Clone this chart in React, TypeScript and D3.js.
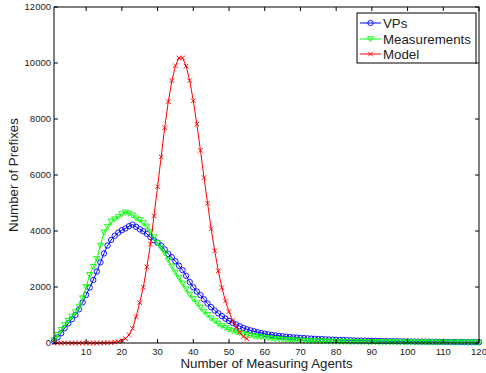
import React from "react";
import * as d3 from "d3";

const xTicks = [10, 20, 30, 40, 50, 60, 70, 80, 90, 100, 110, 120];
const yTicks = [0, 2000, 4000, 6000, 8000, 10000, 12000];

const vps = [
  60, 200, 350, 530, 700, 850, 1000, 1200, 1450, 1720,
  1980, 2250, 2550, 2880, 3200, 3480, 3680, 3830, 3940, 4030,
  4090, 4170, 4230, 4150, 4060, 3990, 3900, 3780, 3670, 3580,
  3480, 3340, 3180, 3060, 2920, 2760, 2600, 2400, 2180, 1990,
  1840, 1710, 1560, 1410, 1280, 1160, 1060, 960, 870, 790,
  720, 660, 600, 540, 490, 450, 415, 385, 355, 330,
  308, 288, 270, 254, 240, 226, 213, 202, 192, 183,
  174, 165, 157, 149, 142, 136, 130, 124, 118, 113,
  108, 103, 99, 95, 91, 88, 85, 82, 79, 76,
  73, 71, 68, 66, 64, 62, 60, 58, 56, 54,
  52, 50, 49, 47, 46, 44, 43, 42, 40, 39,
  38, 37, 36, 35, 34, 33, 32, 31, 30, 30,
];

const measurements = [
  100, 290, 470, 640, 790, 940, 1100, 1300, 1600, 2000,
  2430, 2720, 3000, 3480, 3950, 4150, 4340, 4420, 4500, 4600,
  4660, 4620, 4560, 4450, 4390, 4290, 4160, 3960, 3780, 3570,
  3400, 3210, 2960, 2730, 2520, 2320, 2120, 1920, 1730, 1580,
  1420, 1260, 1120, 1000, 880, 780, 685, 605, 535, 475,
  425, 385, 350, 318, 290, 265, 242, 222, 203, 187,
  172, 158, 145, 134, 124, 115, 107, 99, 92, 86,
  80, 75, 70, 66, 62, 58, 55, 52, 49, 47,
  45, 43, 41, 39, 38, 36, 35, 34, 33, 32,
  31, 30, 29, 28, 27, 27, 26, 25, 25, 24,
  24, 23, 23, 22, 22, 21, 21, 20, 20, 20,
  19, 19, 19, 18, 18, 18, 17, 17, 17, 16,
];

const model = [
  0, 0, 0, 0, 0, 0, 0, 0, 0, 0,
  0, 0, 1, 2, 4, 8, 15, 28, 50, 90,
  160, 290, 520, 940, 1440, 1990, 2720, 3530, 4540, 5580,
  6650, 7690, 8620, 9370, 9900, 10180, 10180, 9890, 9370, 8650,
  7810, 6880, 5910, 4990, 4080, 3290, 2580, 1975, 1500, 1120,
  800, 560, 380, 230, 150,
];

const seriesNames = ["VPs", "Measurements", "Model"];
const seriesColors = ["#0000ff", "#00ff00", "#ff0000"];

const W = 486;
const H = 373;
const left = 54;
const right = 479;
const top = 7;
const bottom = 343;

const x = d3.scaleLinear().domain([1, 120]).range([left, right]);
const y = d3.scaleLinear().domain([0, 12000]).range([bottom, top]);

function Marker({ kind, cx, cy, color }: { kind: number; cx: number; cy: number; color: string }) {
  if (kind === 0) {
    return <circle cx={cx} cy={cy} r={2.7} fill="none" stroke={color} strokeWidth={0.9} />;
  }
  if (kind === 1) {
    const s = 3;
    return (
      <path
        d={`M${cx - s},${cy - s * 0.8}L${cx + s},${cy - s * 0.8}L${cx},${cy + s * 0.9}Z`}
        fill="none"
        stroke={color}
        strokeWidth={0.9}
      />
    );
  }
  const s = 2.3;
  return (
    <path
      d={`M${cx - s},${cy - s}L${cx + s},${cy + s}M${cx - s},${cy + s}L${cx + s},${cy - s}`}
      stroke={color}
      strokeWidth={0.9}
    />
  );
}

export default function App() {
  const all = [vps, measurements, model];
  const line = d3
    .line<number>()
    .x((_, i) => x(i + 1))
    .y((d) => y(d));
  const font = "'Liberation Sans', Arial, Helvetica, sans-serif";
  const legendRows = [23, 39, 54];
  return (
    <svg
      width={W}
      height={H}
      style={{ position: "absolute", left: 0, top: 0, background: "#fff" }}
      fontFamily={font}
    >
      <rect x={0} y={0} width={W} height={H} fill="#fff" />
      {all.map((data, k) => (
        <g key={k}>
          <path d={line(data) || ""} fill="none" stroke={seriesColors[k]} strokeWidth={1} />
          {data.map((d, i) => (
            <Marker key={i} kind={k} cx={x(i + 1)} cy={y(d)} color={seriesColors[k]} />
          ))}
        </g>
      ))}
      {/* axes box */}
      <rect x={left} y={top} width={right - left} height={bottom - top} fill="none" stroke="#000" strokeWidth={1} />
      {xTicks.map((t) => (
        <g key={t}>
          <line x1={x(t)} x2={x(t)} y1={bottom} y2={bottom - 4} stroke="#000" />
          <line x1={x(t)} x2={x(t)} y1={top} y2={top + 4} stroke="#000" />
          <text x={x(t)} y={bottom + 12} fontSize={9.5} textAnchor="middle" fill="#222">
            {t}
          </text>
        </g>
      ))}
      {yTicks.map((t) => (
        <g key={t}>
          <line x1={left} x2={left + 4} y1={y(t)} y2={y(t)} stroke="#000" />
          <line x1={right} x2={right - 4} y1={y(t)} y2={y(t)} stroke="#000" />
          <text x={left - 3} y={y(t) + 3.3} fontSize={9.5} textAnchor="end" fill="#222">
            {t}
          </text>
        </g>
      ))}
      <text x={(left + right) / 2} y={368} fontSize={13.3} textAnchor="middle" fill="#222">
        Number of Measuring Agents
      </text>
      <text
        transform={`translate(18,${(top + bottom) / 2}) rotate(-90)`}
        fontSize={13.3}
        textAnchor="middle"
        fill="#222"
      >
        Number of Prefixes
      </text>
      {/* legend */}
      <rect x={357} y={13} width={119} height={50} fill="#fff" stroke="#000" strokeWidth={1} />
      {seriesNames.map((name, k) => (
        <g key={name}>
          <line x1={360} x2={381} y1={legendRows[k]} y2={legendRows[k]} stroke={seriesColors[k]} strokeWidth={1} />
          <Marker kind={k} cx={370.5} cy={legendRows[k]} color={seriesColors[k]} />
          <text x={383} y={legendRows[k] + 4.6} fontSize={13.3} fill="#222">
            {name}
          </text>
        </g>
      ))}
    </svg>
  );
}
